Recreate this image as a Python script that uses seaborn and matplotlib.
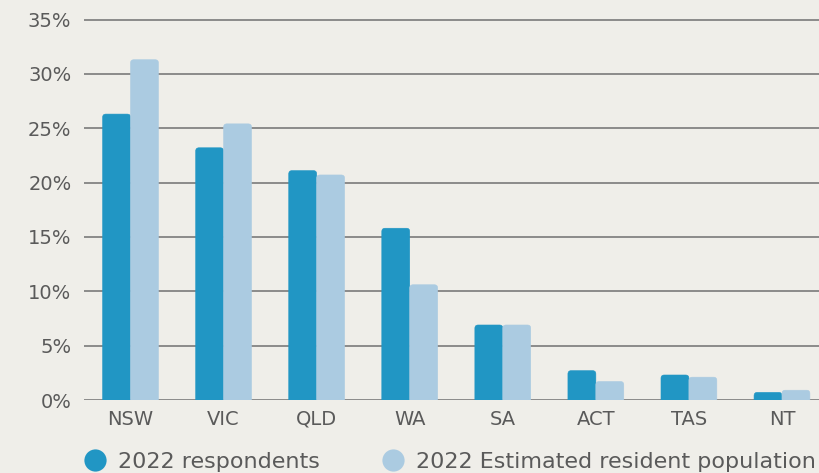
import matplotlib
matplotlib.use("Agg")
import matplotlib.pyplot as plt
import seaborn as sns
import pandas as pd
from matplotlib.patches import FancyBboxPatch
from matplotlib.lines import Line2D

states = ["NSW", "VIC", "QLD", "WA", "SA", "ACT", "TAS", "NT"]
respondents = [26.3, 23.2, 21.1, 15.8, 6.9, 2.7, 2.3, 0.7]
population = [31.3, 25.4, 20.7, 10.6, 6.9, 1.7, 2.1, 0.9]
series = ["2022 respondents", "2022 Estimated resident population"]
colors = ["#2196c4", "#abcbe1"]
yticks = [0, 5, 10, 15, 20, 25, 30, 35]
ytick_labels = [f"{v}%" for v in yticks]

df = pd.DataFrame({
    "state": states * 2,
    "value": respondents + population,
    "series": [series[0]] * len(states) + [series[1]] * len(states),
})

bg = "#efeee9"
sns.set_theme(style="white")
plt.rcParams["font.family"] = ["DejaVu Sans"]

fig = plt.figure(figsize=(8.2, 4.73), dpi=100, facecolor=bg)
ax = fig.add_axes([84 / 820, (473 - 400) / 473, 1 - 84 / 820, (400 - 19.5) / 473])
ax.set_facecolor(bg)

sns.barplot(data=df, x="state", y="value", hue="series", order=states,
            hue_order=series, palette=colors, width=0.6, gap=0,
            ax=ax, legend=False, saturation=1, linewidth=0, zorder=3)

ax.set_ylim(0, 35)
ax.set_xlim(-0.5, (820 - 131) / 93)
ax.set_yticks(yticks)
ax.set_yticklabels(ytick_labels)
ax.yaxis.grid(True, color="#7a7a7a", linewidth=1.2, zorder=0)
ax.set_axisbelow(True)
for s in ax.spines.values():
    s.set_visible(False)
ax.tick_params(axis="both", length=0, labelsize=14, colors="#5a5a5a")
ax.tick_params(axis="y", pad=9)
ax.tick_params(axis="x", pad=7)
ax.set_xlabel("")
ax.set_ylabel("")

# rounded tops
rs = 0.035
asp = 0.3 / rs
for p in list(ax.patches):
    x, y = p.get_x(), p.get_y()
    w, h = p.get_width(), p.get_height()
    if h <= 0:
        continue
    fc = p.get_facecolor()
    p.set_visible(False)
    fb = FancyBboxPatch((x, y - 1), w, h + 1,
                        boxstyle=f"round,pad=0,rounding_size={rs}",
                        mutation_aspect=asp, facecolor=fc, edgecolor=fc,
                        linewidth=0.4, zorder=3, clip_on=True)
    ax.add_patch(fb)

fs = 16
handles = [Line2D([0], [0], marker="o", linestyle="none", markersize=16,
                  markerfacecolor=c, markeredgecolor="none") for c in colors]
fig.legend(handles, series, loc="center left", bbox_to_anchor=(82 / 820, 1 - 461.5 / 473),
           ncol=2, frameon=False, fontsize=fs, handletextpad=0.42,
           columnspacing=2.69, labelcolor="#5a5a5a", handlelength=1.2,
           borderaxespad=0, borderpad=0)

fig.savefig("out.png", dpi=100, facecolor=bg)
